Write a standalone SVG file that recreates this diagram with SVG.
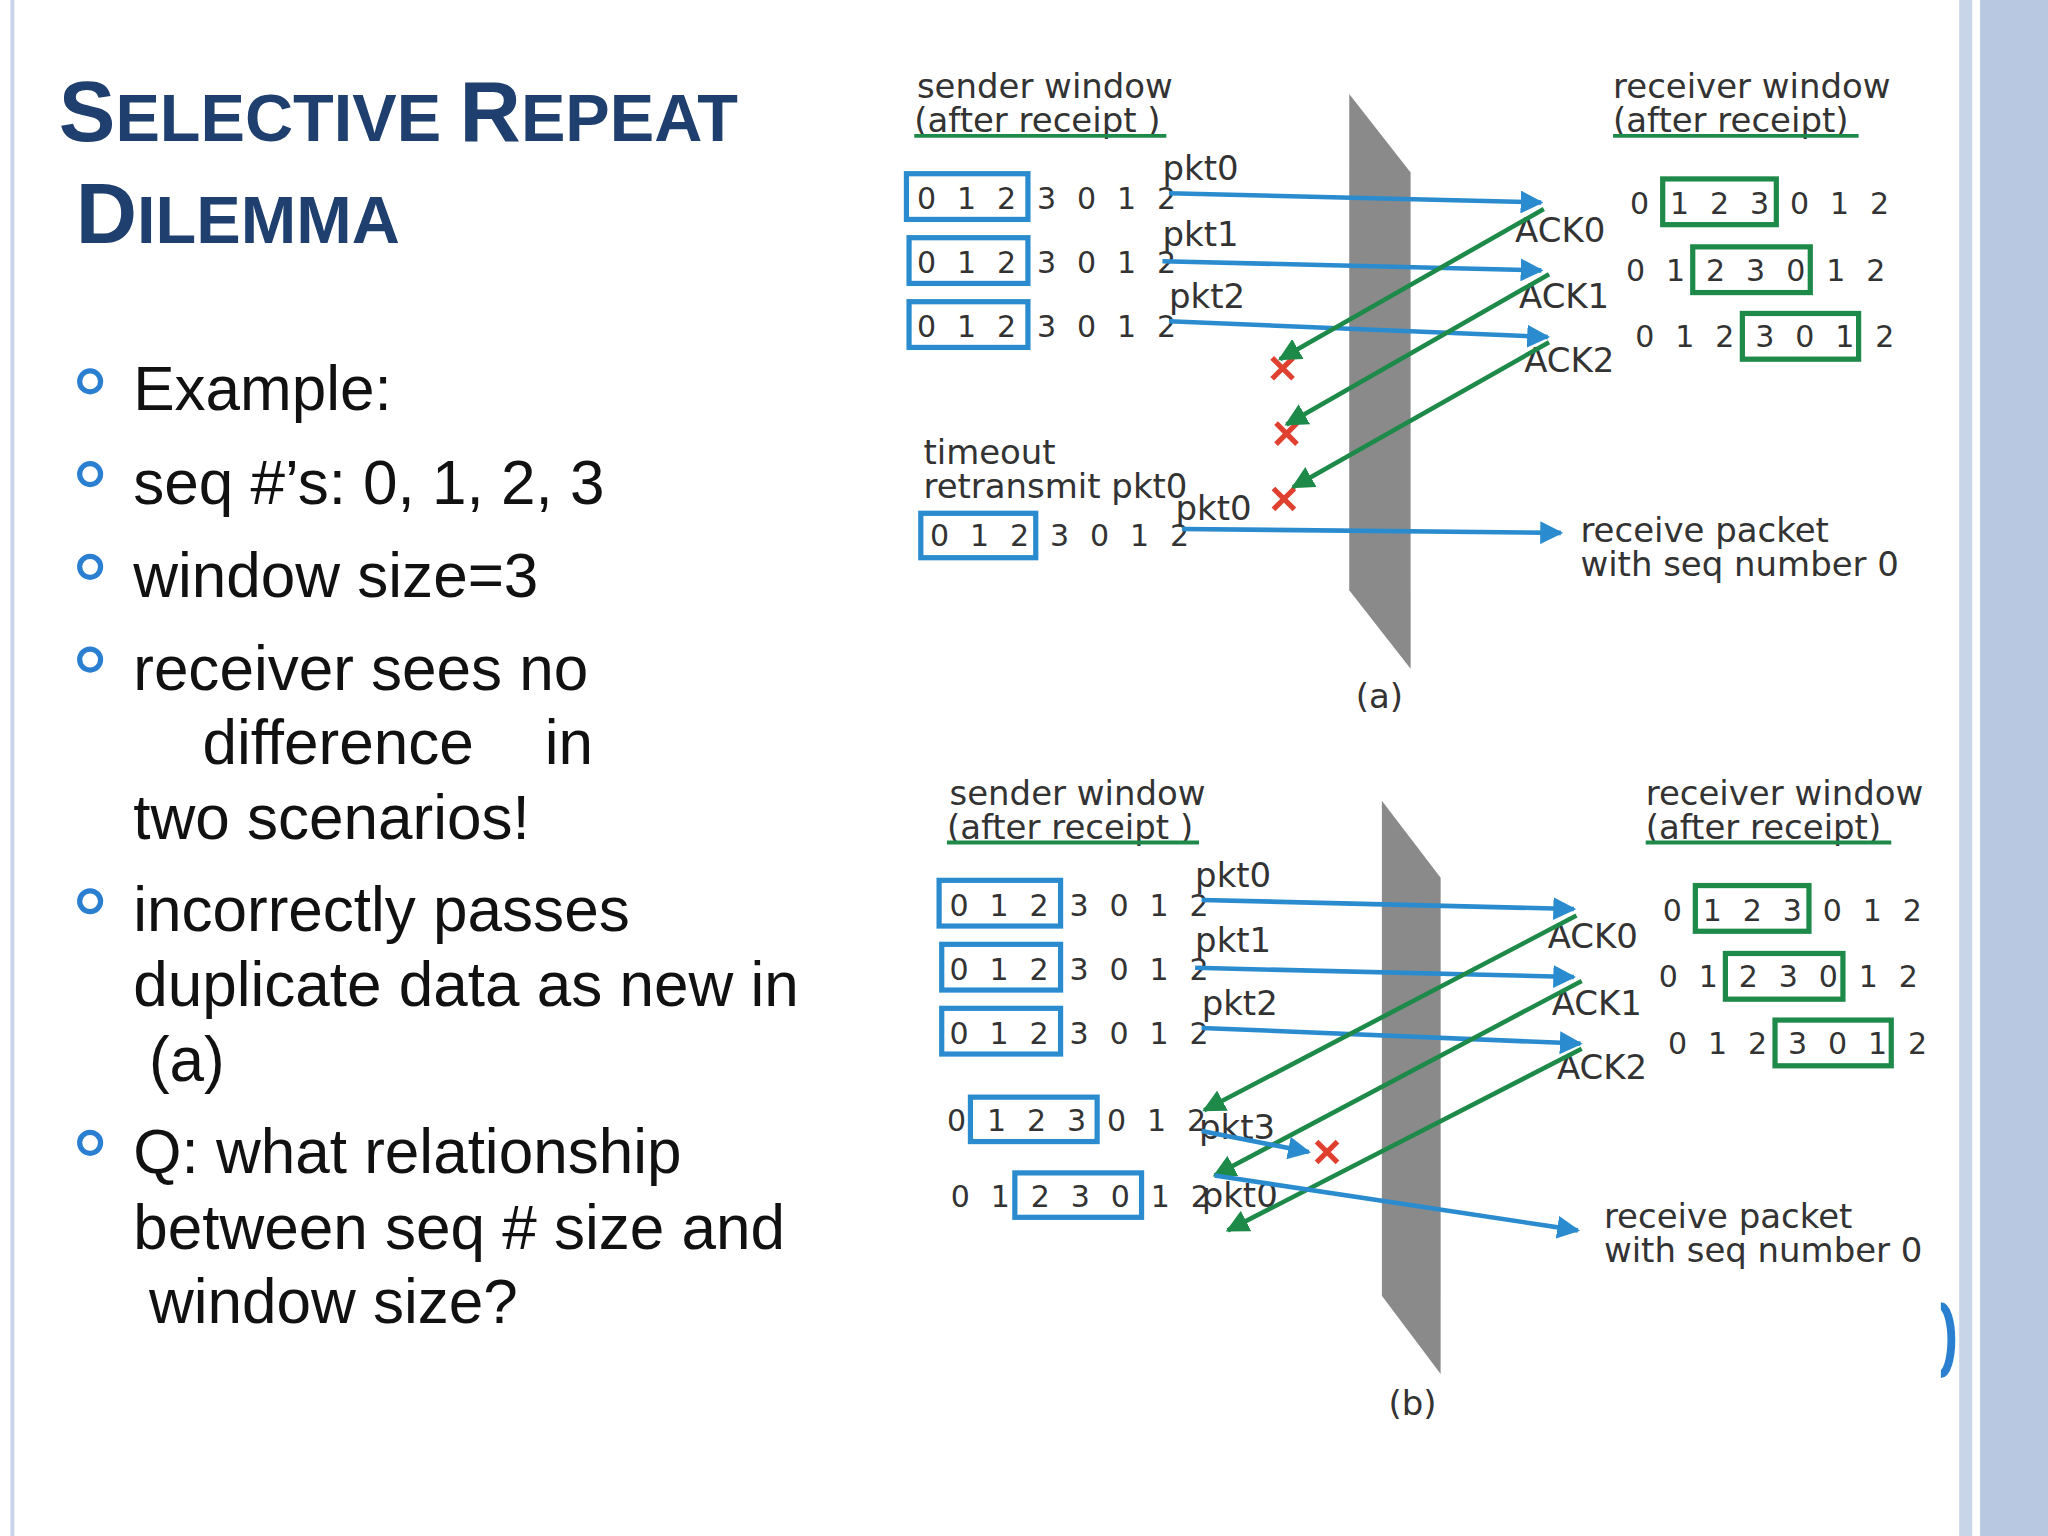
<svg xmlns="http://www.w3.org/2000/svg" width="2048" height="1536" viewBox="0 0 2048 1536">
<defs>
<marker id="ab" viewBox="0 0 10 10" refX="9" refY="5" markerWidth="5" markerHeight="5" orient="auto"><path d="M0,0L10,5L0,10z" fill="#2a8ccf"/></marker>
<marker id="ag" viewBox="0 0 10 10" refX="9" refY="5" markerWidth="5" markerHeight="5" orient="auto"><path d="M0,0L10,5L0,10z" fill="#1e8a4a"/></marker>
<g id="xm"><path d="M-8,-8L8,8M8,-8L-8,8" stroke="#e04030" stroke-width="4"/></g>
</defs>
<style>
.t{font-family:"DejaVu Sans",sans-serif;font-size:26px;fill:#333}
.s{font-family:"DejaVu Sans",sans-serif;font-size:23px;fill:#333;letter-spacing:16px}
.b{font-family:"Liberation Sans",Arial,sans-serif;font-size:47.5px;fill:#111}
.bb{fill:none;stroke:#2a8ccf;stroke-width:4}
.gb{fill:none;stroke:#1e8a4a;stroke-width:4}
.bl{stroke:#2a8ccf;stroke-width:3.5;fill:none;marker-end:url(#ab)}
.gl{stroke:#1e8a4a;stroke-width:3.5;fill:none;marker-end:url(#ag)}
.pl{fill:#8a8a8a}
</style>
<rect width="2048" height="1536" fill="#fff"/>
<g transform="scale(1.30612)">
<rect x="8" y="0" width="3" height="1176" fill="#c8d4e8"/>
<rect x="1500" y="0" width="10" height="1176" fill="#c8d4e8"/>
<rect x="1516" y="0" width="52" height="1176" fill="#b8c8e0"/>
<path d="M1486,1000 A8,26 0 0 1 1486,1052" fill="none" stroke="#2a7fd0" stroke-width="6"/>
<g id="title" font-family="Liberation Sans,Arial,sans-serif" font-weight="bold" fill="#1f3f6e">
<text x="45" y="108" font-size="65">S<tspan font-size="51">ELECTIVE </tspan>R<tspan font-size="51">EPEAT</tspan></text>
<text x="58" y="186" font-size="65">D<tspan font-size="51">ILEMMA</tspan></text>
</g>
<g id="bullets">
<g fill="none" stroke="#2a7fd0" stroke-width="4">
<circle cx="69" cy="292" r="8"/><circle cx="69" cy="363" r="8"/><circle cx="69" cy="434" r="8"/><circle cx="69" cy="505" r="8"/><circle cx="69" cy="690" r="8"/><circle cx="69" cy="875" r="8"/></g>
<text class="b" x="102" y="314">Example:</text>
<text class="b" x="102" y="386">seq #’s: 0, 1, 2, 3</text>
<text class="b" x="102" y="457">window size=3</text>
<text class="b" x="102" y="528">receiver sees no</text>
<text class="b" x="155" y="585">difference</text><text class="b" x="417" y="585">in</text>
<text class="b" x="102" y="642">two  scenarios!</text>
<text class="b" x="102" y="713">incorrectly passes</text>
<text class="b" x="102" y="770">duplicate data as new in</text>
<text class="b" x="114" y="828">(a)</text>
<text class="b" x="102" y="898">Q: what relationship</text>
<text class="b" x="102" y="956">between seq # size and</text>
<text class="b" x="114" y="1013">window size?</text>
</g>

<g id="diagA">
<polygon class="pl" points="1033,72 1080,132 1080,512 1033,452"/>
<text class="t" x="702" y="75">sender window</text><text class="t" x="700" y="101">(after receipt )</text>
<line x1="700" y1="104" x2="893" y2="104" stroke="#1e8a4a" stroke-width="3"/>
<text class="t" x="1235" y="75">receiver window</text><text class="t" x="1235" y="101">(after receipt)</text>
<line x1="1235" y1="104" x2="1423" y2="104" stroke="#1e8a4a" stroke-width="3"/>
<text class="s" x="702" y="160">0123012</text><rect class="bb" x="694" y="133" width="93" height="35"/>
<text class="s" x="702" y="209">0123012</text><rect class="bb" x="696" y="182" width="91" height="35"/>
<text class="s" x="702" y="258">0123012</text><rect class="bb" x="696" y="231" width="91" height="35"/>
<text class="t" x="890" y="138">pkt0</text><text class="t" x="890" y="188">pkt1</text><text class="t" x="895" y="236">pkt2</text>
<text class="s" x="1248" y="164">0123012</text><rect class="gb" x="1273" y="137" width="87" height="35"/>
<text class="s" x="1245" y="215">0123012</text><rect class="gb" x="1296" y="189" width="90" height="35"/>
<text class="s" x="1252" y="266">0123012</text><rect class="gb" x="1334" y="240" width="89" height="35"/>
<text class="t" x="1160" y="185">ACK0</text><text class="t" x="1163" y="236">ACK1</text><text class="t" x="1167" y="285">ACK2</text>
<text class="t" x="707" y="355">timeout</text><text class="t" x="707" y="381">retransmit pkt0</text>
<text class="s" x="712" y="418">0123012</text><rect class="bb" x="705" y="393" width="88" height="34"/>
<text class="t" x="900" y="398">pkt0</text>
<text class="t" x="1210" y="415">receive packet</text><text class="t" x="1210" y="441">with seq number 0</text>
<text class="t" x="1038" y="542">(a)</text>
<use href="#xm" x="982" y="282"/><use href="#xm" x="985" y="332"/><use href="#xm" x="983" y="382"/>
</g>
<g id="diagB">
<polygon class="pl" points="1058,613 1103,672 1103,1052 1058,992"/>
<text class="t" x="727" y="616">sender window</text><text class="t" x="725" y="642">(after receipt )</text>
<line x1="725" y1="645" x2="918" y2="645" stroke="#1e8a4a" stroke-width="3"/>
<text class="t" x="1260" y="616">receiver window</text><text class="t" x="1260" y="642">(after receipt)</text>
<line x1="1260" y1="645" x2="1448" y2="645" stroke="#1e8a4a" stroke-width="3"/>
<text class="s" x="727" y="701">0123012</text><rect class="bb" x="719" y="674" width="93" height="35"/>
<text class="s" x="727" y="750">0123012</text><rect class="bb" x="721" y="723" width="91" height="35"/>
<text class="s" x="727" y="799">0123012</text><rect class="bb" x="721" y="772" width="91" height="35"/>
<text class="t" x="915" y="679">pkt0</text><text class="t" x="915" y="729">pkt1</text><text class="t" x="920" y="777">pkt2</text>
<text class="s" x="1273" y="705">0123012</text><rect class="gb" x="1298" y="678" width="87" height="35"/>
<text class="s" x="1270" y="756">0123012</text><rect class="gb" x="1321" y="730" width="90" height="35"/>
<text class="s" x="1277" y="807">0123012</text><rect class="gb" x="1359" y="781" width="89" height="35"/>
<text class="t" x="1185" y="726">ACK0</text><text class="t" x="1188" y="777">ACK1</text><text class="t" x="1192" y="826">ACK2</text>
<text class="s" x="725" y="866">0123012</text><rect class="bb" x="743" y="840" width="97" height="34"/>
<text class="t" x="918" y="872">pkt3</text>
<text class="s" x="728" y="924">0123012</text><rect class="bb" x="777" y="898" width="97" height="34"/>
<text class="t" x="920" y="924">pkt0</text>
<text class="t" x="1228" y="940">receive packet</text><text class="t" x="1228" y="966">with seq number 0</text>
<text class="t" x="1063" y="1083">(b)</text>
<use href="#xm" x="1016" y="882"/>
</g>
<g id="connectors">
<path class="bl" d="M895,148L1180,155"/>
<path class="bl" d="M890,200L1180,207"/>
<path class="bl" d="M895,246L1185,258"/>
<path class="gl" d="M1182,160L980,275"/>
<path class="gl" d="M1186,210L985,325"/>
<path class="gl" d="M1186,262L990,373"/>
<path class="bl" d="M905,405L1195,408"/>
<path class="bl" d="M920,689L1205,696"/>
<path class="bl" d="M915,741L1205,748"/>
<path class="bl" d="M920,787L1210,799"/>
<path class="gl" d="M1207,701L922,850"/>
<path class="gl" d="M1211,751L930,900"/>
<path class="gl" d="M1211,803L940,942"/>
<path class="bl" d="M920,866L1002,882"/>
<path class="bl" d="M930,900L1208,942"/>
</g>
</g>
</svg>
